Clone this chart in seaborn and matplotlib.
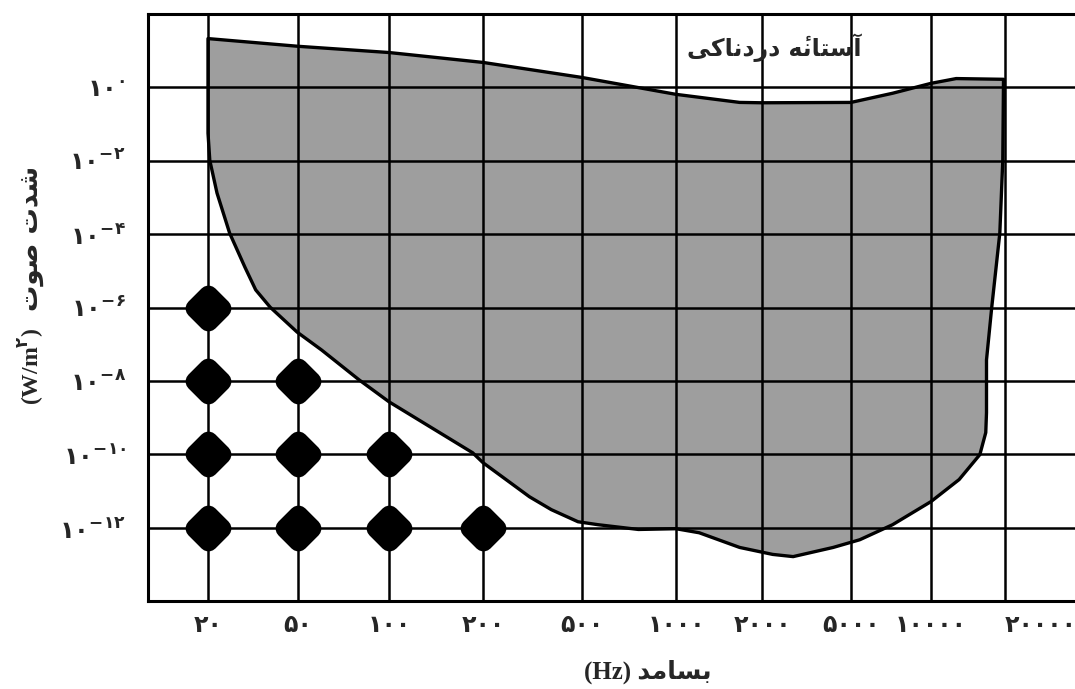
import matplotlib
matplotlib.use('Agg')
import matplotlib.pyplot as plt
import seaborn as sns
import pandas as pd
import numpy as np

# frequency slots on the x axis (Persian digits), one grid column each
freq_labels = ['۲۰', '۵۰', '۱۰۰', '۲۰۰', '۵۰۰', '۱۰۰۰', '۲۰۰۰', '۵۰۰۰', '۱۰۰۰۰', '۲۰۰۰۰']
# intensity ticks: 10^exp W/m^2
power_exps = [0, -2, -4, -6, -8, -10, -12]
exp_digits = ['۰', '-۲', '-۴', '-۶', '-۸', '-۱۰', '-۱۲']

# audible region outline, clockwise from top-left
# x = frequency slot (0 -> 20 Hz), y = log10 of intensity
region_x = [0, 1, 2, 3, 4, 5, 5.74, 6, 7, 7.52, 8, 8.34, 8.98,
            8.97, 8.93, 8.82, 8.75, 8.75, 8.75, 8.74, 8.66, 8.38, 8.0,
            7.52, 7.11, 6.8, 6.35, 6.12, 5.74, 5.27, 5.0, 4.6, 4.17,
            3.96, 3.69, 3.47, 3.0, 2.89, 2.0, 1.67, 1.26, 0.99, 0.69, 0.53, 0.41, 0.24,
            0.10, 0.02, 0]
region_y = [1.33, 1.12, 0.95, 0.68, 0.27, -0.19, -0.41, -0.42, -0.41, -0.16, 0.11, 0.24, 0.22,
            -1.99, -3.97, -6.01, -7.43, -8.03, -8.87, -9.41, -10.01, -10.69, -11.29,
            -11.92, -12.33, -12.54, -12.79, -12.73, -12.54, -12.14, -12.03, -12.05, -11.92,
            -11.84, -11.51, -11.16, -10.23, -9.96, -8.57, -7.97, -7.16, -6.67, -5.99, -5.52, -4.90, -3.97,
            -2.88, -1.99, -1.25]

# black dots on the grid crossings
dot_x = [0, 0, 0, 0, 1, 1, 1, 2, 2, 3]
dot_y = [-6, -8, -10, -12, -8, -10, -12, -10, -12, -12]

# Persian strings, written in visual order with presentation forms
title_fa = ('\ufef0\ufedb\ufe8e\ufee7\ufea9\ufead\ufea9 '
            '\ufeea\u0654\ufee7\ufe8e\ufe98\ufeb3\ufe81')   # آستانهٔ دردناکی
freq_fa = '(Hz) \ufeaa\ufee3\ufe8e\ufeb4\ufe91'               # بسامد (Hz)
intensity_fa = '\ufe95\ufeee\ufebb \ufe95\ufeaa\ufeb7'       # شدت صوت

# the hand-drawn grid columns are not evenly spaced: pixel centre of each column
col_pos = np.array([208, 298, 389, 483, 582, 676, 762, 851, 931, 1005], float)
slots = np.arange(len(col_pos), dtype=float)


def slot_to_pos(x):
    x = np.asarray(x, float)
    p = np.interp(x, slots, col_pos)
    p = np.where(x < 0, col_pos[0] + x * (col_pos[1] - col_pos[0]), p)
    p = np.where(x > slots[-1], col_pos[-1] + (x - slots[-1]) * (col_pos[-1] - col_pos[-2]), p)
    return p


def pos_to_slot(p):
    p = np.asarray(p, float)
    x = np.interp(p, col_pos, slots)
    x = np.where(p < col_pos[0], (p - col_pos[0]) / (col_pos[1] - col_pos[0]), x)
    x = np.where(p > col_pos[-1], slots[-1] + (p - col_pos[-1]) / (col_pos[-1] - col_pos[-2]), x)
    return x


sns.set_style('white')
plt.rcParams['mathtext.fontset'] = 'dejavusans'
plt.rcParams['mathtext.default'] = 'bf'
mixed_font = ['Liberation Serif', 'DejaVu Sans']

fig = plt.figure(figsize=(10.75, 6.89), dpi=100)
ax = fig.add_axes([148 / 1075, 1 - 601 / 689, 1 - 148 / 1075, 587 / 689])
ax.set_xscale('function', functions=(slot_to_pos, pos_to_slot))

ax.fill(region_x, region_y, facecolor='#9e9e9e', edgecolor='black',
        linewidth=2.4, joinstyle='round', zorder=1)

dots = pd.DataFrame({'slot': dot_x, 'level': dot_y})
sns.scatterplot(data=dots, x='slot', y='level', marker='D', s=180, color='black',
                edgecolor='black', linewidth=14, legend=False, ax=ax, zorder=4)
ax.collections[-1].set_joinstyle('round')

ax.set_xlim(pos_to_slot(148), pos_to_slot(1075))
ax.set_ylim(-14, 2)
ax.set_xticks(slots)
ax.set_xticklabels(freq_labels, fontsize=17, fontweight='bold', family='DejaVu Sans')
ax.get_xticklabels()[-1].set_horizontalalignment('left')
ax.set_yticks(power_exps)
ax.set_yticklabels(['$۱۰^{%s}$' % e for e in exp_digits], fontsize=17.5)
ax.xaxis.set_minor_locator(plt.NullLocator())
ax.tick_params(axis='both', which='both', length=0)
ax.tick_params(axis='y', pad=16)
ax.tick_params(axis='x', pad=9)
ax.set_xlabel('')
ax.set_ylabel('')

ax.grid(True, color='black', linewidth=1.8)
ax.set_axisbelow(False)
for side in ['left', 'top', 'bottom']:
    ax.spines[side].set_color('black')
    ax.spines[side].set_linewidth(2.2)
ax.spines['right'].set_visible(False)

ax.text(0.675, 0.942, title_fa, transform=ax.transAxes, ha='center', va='center',
        fontsize=17, fontweight='bold', family='DejaVu Sans', zorder=5)

fig.text(648 / 1075, 1 - 672 / 689, freq_fa, ha='center', va='center',
         fontsize=18, fontweight='bold', family=mixed_font)
fig.text(32 / 1075, 1 - 366 / 689, '(W/m$^{۲}$)', rotation=90, ha='center', va='center',
         fontsize=17, fontweight='bold', family='Liberation Serif')
fig.text(32 / 1075, 1 - 238 / 689, intensity_fa, rotation=90, ha='center', va='center',
         fontsize=19, fontweight='bold', family='DejaVu Sans')

plt.savefig('out.png', dpi=100)
